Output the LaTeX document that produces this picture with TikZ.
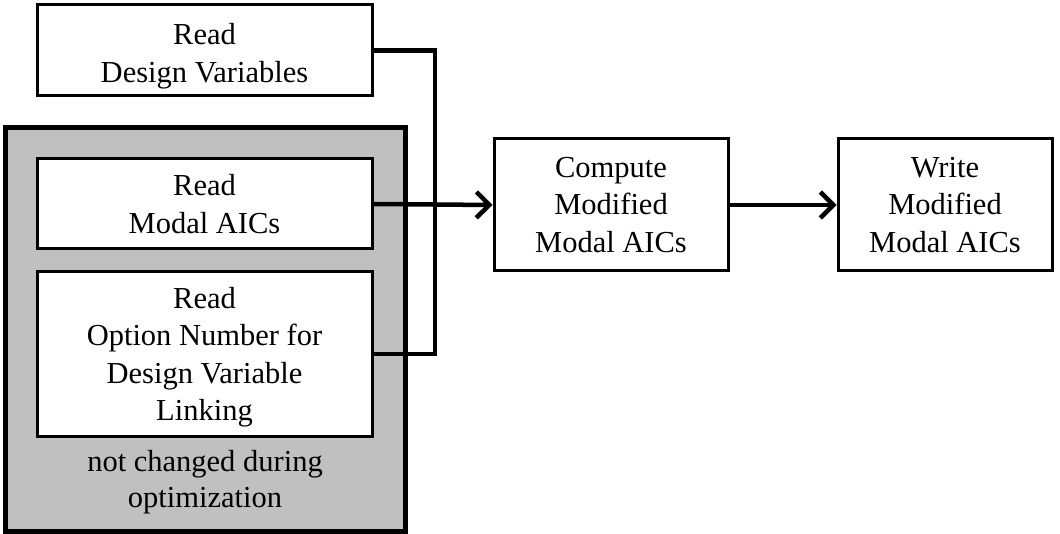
\documentclass[tikz,border=0pt]{standalone}
\usepackage{fontspec}
\setmainfont{Liberation Serif}
\usetikzlibrary{arrows.meta}
\definecolor{boxgray}{RGB}{192,192,192}
\begin{document}
\begin{tikzpicture}[x=1pt,y=-1pt,
  proc/.style={draw=black,fill=white,line width=3pt,inner sep=0pt,align=center,
    font=\fontsize{30.5}{37.5}\selectfont},
  txt/.style={inner sep=0pt,align=center,font=\fontsize{30.5}{37.5}\selectfont},
  conn/.style={line width=4.5pt},
  arr/.style={line width=4.5pt,-{Straight Barb[length=13pt,width=26pt,line width=4.5pt]}}]
\useasboundingbox (0,0) rectangle (1060,534);
\node[draw=black,fill=boxgray,line width=5pt,minimum width=400pt,minimum height=403pt,inner sep=0pt] (grp) at (205,329.5) {};
\node[proc,minimum width=335pt,minimum height=91pt] (dv) at (204.5,50.5) {};
\node[txt] (dvt) at (204.5,56) {Read\\Design Variables};
\node[proc,minimum width=335pt,minimum height=90pt] (mod) at (204.5,204) {Read\\Modal AICs};
\node[proc,minimum width=335pt,minimum height=164pt] (opt) at (204.5,354) {};
\node[txt] (optt) at (204.5,357) {Read\\Option Number for\\Design Variable\\Linking};
\node[align=center,inner sep=0pt,font=\fontsize{30.5}{36}\selectfont] (note) at (205,482) {not changed during\\optimization};
\node[proc,minimum width=234pt,minimum height=132pt] (cmp) at (611,205) {Compute\\Modified\\Modal AICs};
\node[proc,minimum width=214pt,minimum height=132pt] (wr) at (945,205) {Write\\Modified\\Modal AICs};
\coordinate (j1) at (435,50.5);
\coordinate (j2) at (435,354);
\draw[conn,line join=miter] (dv.east) -- (j1) -- (j2) -- (opt.east);
\draw[arr] (mod.east) -- (cmp.west);
\draw[arr] (cmp.east) -- (wr.west);
\end{tikzpicture}
\end{document}
